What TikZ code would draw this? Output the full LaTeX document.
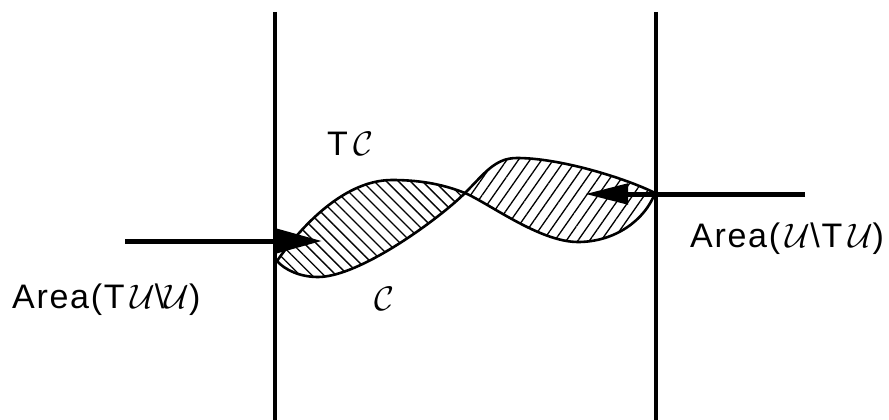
\documentclass[tikz,border=0pt]{standalone}
\usepackage{fix-cm}
\usepackage{fontspec}
\setmainfont{Liberation Sans}
\newfontfamily\lblfont[LetterSpace=5]{Liberation Sans}
\usetikzlibrary{arrows.meta,patterns.meta}
\begin{document}
\begin{tikzpicture}[x=1pt,y=-1pt,
  curve/.style={line width=2.6pt},
  wall/.style={line width=4.5pt},
  flux/.style={line width=5pt},
  lbl/.style={anchor=base west, inner sep=0pt, font=\lblfont\fontsize{34}{37}\selectfont},
  hatchL/.style={pattern={Lines[angle=-45,distance=8.5pt,line width=1.3pt]}},
  hatchR/.style={pattern={Lines[angle=55,distance=9.5pt,line width=1.3pt]}}]
\useasboundingbox (0,0) rectangle (889,420);
\coordinate (L) at (277,261);
\coordinate (X) at (465,193);
\coordinate (R) at (655,193);
\coordinate (P1) at (392,180);
\coordinate (T1) at (318,277);
\coordinate (P2) at (517,158);
\coordinate (T2) at (578,242);
% hatched lenses
\fill[hatchL] (L) .. controls (295,235) and (340,180) .. (P1) .. controls (425,180) and (447,186) .. (X)
  .. controls (440,218) and (360,277) .. (T1) .. controls (300,277) and (285,270) .. cycle;
\fill[hatchR] (X) .. controls (485,173) and (495,158) .. (P2) .. controls (560,158) and (625,178) .. (R)
  .. controls (645,220) and (615,242) .. (T2) .. controls (540,242) and (490,204) .. cycle;
% curve TC
\draw[curve] (L) .. controls (295,235) and (340,180) .. (P1) .. controls (425,180) and (447,186) .. (X)
  .. controls (490,204) and (540,242) .. (T2) .. controls (615,242) and (645,220) .. (R);
% curve C
\draw[curve] (L) .. controls (285,270) and (300,277) .. (T1) .. controls (360,277) and (440,218) .. (X)
  .. controls (485,173) and (495,158) .. (P2) .. controls (560,158) and (625,178) .. (R);
% walls
\coordinate (lw1) at (275,12); \coordinate (lw2) at (275,420);
\coordinate (rw1) at (656,12); \coordinate (rw2) at (656,420);
\draw[wall] (lw1) -- (lw2);
\draw[wall] (rw1) -- (rw2);
% arrows
\coordinate (la) at (125,241); \coordinate (lt) at (322,241);
\draw[flux,-{Triangle[length=48pt,width=25pt]}] (la) -- (lt);
\coordinate (ra) at (805,194); \coordinate (rt) at (585,194);
\draw[flux,-{Triangle[length=43pt,width=20pt]}] (ra) -- (rt);
% labels
\node[lbl] (tc) at (327,155) {T\,$\mathcal{C}$};
\node[lbl] (c) at (374,310) {$\mathcal{C}$};
\node[lbl] (al) at (12,308) {Area(T\,$\mathcal{U}$\textbackslash$\mathcal{U}$)};
\node[lbl] (ar) at (690,247) {Area(\,$\mathcal{U}$\textbackslash T\,$\mathcal{U}$)};
\end{tikzpicture}
\end{document}
